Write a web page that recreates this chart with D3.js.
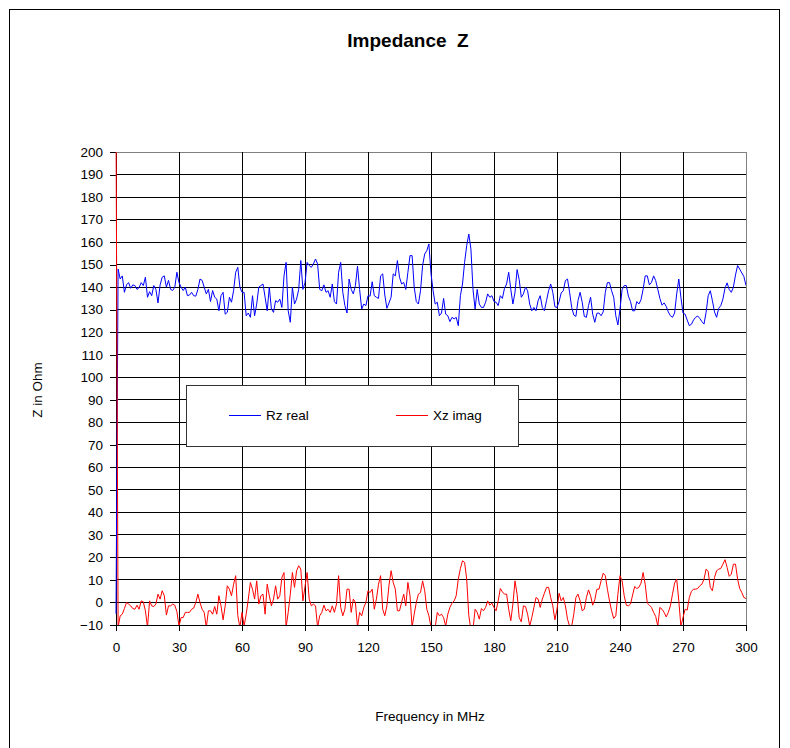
<!DOCTYPE html>
<html>
<head>
<meta charset="utf-8">
<script src="https://cdn.jsdelivr.net/npm/d3@7"></script>
<style>
  html, body { margin: 0; padding: 0; background: #fff; }
  svg { display: block; font-family: "Liberation Sans", Arial, sans-serif; }
</style>
</head>
<body>
<svg id="chart" width="790" height="748"></svg>
<script>
// ---- data ----
const chartTitle = "Impedance  Z";
const xLabel = "Frequency in MHz";
const yLabel = "Z in Ohm";
const seriesNames = ["Rz real", "Xz imag"];
const xTicks = [0, 30, 60, 90, 120, 150, 180, 210, 240, 270, 300];
const yTicks = [-10, 0, 10, 20, 30, 40, 50, 60, 70, 80, 90, 100, 110, 120, 130, 140, 150, 160, 170, 180, 190, 200];
// sweep frequencies, MHz (one sample per MHz)
const freqMHz = d3.range(0, 301, 1);
const rzReal = [
-5,148,143.6,145,137.7,141,142,139.5,141,140.7,139,139.8,142,140.7,144.4,135.5,138,136.2,140.7,139,
133,141,144.4,145,140,143,139,138.5,140,146.6,142,140,138.5,140,136.2,136.5,137.7,136.2,136,139,
143.6,143,140,137,139,133.6,138.5,135.5,134.7,129.5,136.2,137.7,128,128.8,135.5,133.3,138.5,146.6,148.8,140,
137.7,137.7,127.3,128.5,126.6,136.2,127.3,132.5,140,140.7,141.4,135.5,129.5,140,130.3,128.8,134,133.3,134.7,131,
145,151,129.5,124.4,140,132.5,134.7,139,151.8,139,142,151,149.6,148.8,150.3,152.5,150.3,139,138.4,141,
137.7,138.4,135.5,141.4,133.6,132.5,146.6,151,137.7,131.8,128.5,143.6,139,137,140.7,149.3,139,130.3,132.5,131.8,
136.2,136,142.4,136.2,135.5,135,145,145.9,136.5,130.6,133,135.5,145.9,145,151.8,144.4,141.4,142.1,139,146.6,
154,154,140,133.6,132.5,138.4,149.6,154.7,156.2,159.2,146,138.4,132.5,133.3,127.3,128.5,135,128,127.3,124.7,
126.6,125.9,126.6,122.9,136.2,141.4,151,158.4,163.6,157,139,130.3,139,132.5,131,131,133.3,137,135.5,136.2,
133.6,133.3,131.8,136.2,135,139.5,141.4,146.6,139,132.5,137.7,147.8,143.3,135.5,137,140,138.4,132.5,129.5,131,
129.5,134,136.2,131,129.5,134,138.4,141.4,137.7,131.3,131,133.6,137.4,138.4,142.9,143.6,137.7,131,127.6,127,
134,137.7,133.3,127,126.6,131.8,135.5,128,124.4,128.4,128.5,127.3,129,137.7,142,142,138.4,135.5,127.3,123.2,
130.3,138.9,140.7,140.7,136,133.6,129.5,129.5,133.6,132.5,134.4,139,145,145,141,142.1,145,142.9,139,135,
132,133,131.5,129,127.3,126.6,128.5,137,143.6,135.5,128.5,128,125.4,122.9,123.5,125.4,126.6,127.2,126.1,124.7,
123.6,128.8,136.2,138.4,134,129,126.6,130.6,131.8,134.7,139.5,141.9,139,137.7,140,145.4,149.6,148,146.3,144.7,
140.7
];
const xzImag = [
215,-11,-5.9,-5.2,-2.7,0,-0.7,-1.5,-2.7,-3,-1.2,-3,0.7,0.3,-3.7,-11,0.7,-1.5,-1.8,-0.7,
3.7,1.5,5.2,3,-5.6,-1.5,-1.5,-0.7,-1.2,-4.1,-10.5,-6.7,-6.7,-4.4,-4.4,-4.4,-3,-2.5,0,3.7,
0,-3,-4.4,-11,-3.7,-3.7,-5.2,-1.8,-5.2,3,-1.5,-7.7,-1.5,7.4,5.9,3,8.1,11.9,-5.9,-11,
-4.4,-10.5,-5.2,1.5,8.9,5.9,1.5,9.6,-0.7,3,3.7,-5.2,8.1,3,-1.5,1.5,7.4,1.5,3,11.1,
13.3,-11,-4.4,3.7,13.3,6.7,14.1,16.3,14.8,0.7,7.1,13.3,1.5,-1.5,-0.7,-1.5,-11,-5.9,-4.4,-1.2,
-3.7,-3,-4.4,-1.5,-4.4,-0.7,11.9,-2.2,-5.9,-3,5.9,5.9,-4.4,1.5,0,-11,-4.4,-5.9,-2.2,0,
5.2,4.4,5.9,-3,1.5,8.1,11.9,-3,-5.9,-1.5,7.7,14.1,8.9,5.9,-3.7,-3.7,0,3.7,-1.5,8.9,
3,-11,-5.2,0,3.7,4.4,9.6,5.2,-3,-5.9,-11,-12,-11,-4.4,-5.9,-5.2,-6.7,-10.5,-5.2,-2.2,
-0.3,0.7,3,10.4,15.1,18.5,17.8,10.4,-5.9,-12,-12,-3,-4.4,-7.4,-2.7,-3.7,-2.2,0.7,-1.2,-0.3,
-2.2,-3.7,0.7,6.2,4.7,3.7,3.7,-3,-8.1,-0.7,9.6,3.7,-6.7,-8.6,-1.5,-1.8,-5.2,-10.5,-6.7,-2.2,
2.2,1.5,-2.2,1.5,4.1,6.7,6.7,2.2,-1.5,-7.7,-3,4.1,0.7,2.2,-1.5,-7.4,-10.5,-10.5,-5.2,2.2,
3.7,0.7,-3.7,-3,2.2,5.6,3,-1.2,1.2,5.9,5.9,9.6,13,11.9,5.9,0.7,-3.7,-7.1,-5.9,3.7,
11.9,9.6,3,-1.2,-1.5,-0.7,3.3,7.1,6.2,6.7,8.6,13.3,8.1,-0.3,-1.2,-2.2,-4.4,-6.2,-10.5,-2.2,
-3,-4.4,-6.4,-4.4,-1.5,3.7,8.6,10.4,0.7,-10.5,-6.7,-3,-3.4,2.2,4.9,5.9,5.9,6.2,7.4,8.1,
10.4,14.8,13.7,6.7,5.2,11.1,14.1,14.8,15.1,17,19,15.6,11.6,12.6,17,17,10.4,6.2,4.4,2.2,
1.8
];
const seriesColors = ["#0000ff", "#ff0000"];

// ---- drawing ----
const svg = d3.select("#chart");
const x = d3.scaleLinear().domain([0, 300]).range([116, 746]);
const y = d3.scaleLinear().domain([-10, 200]).range([625, 152]);

// outer chart frame
svg.append("rect").attr("x", 9.5).attr("y", 9.5).attr("width", 770).attr("height", 770)
  .attr("fill", "#fff").attr("stroke", "#000").attr("stroke-width", 1);

// plot area border
svg.append("rect").attr("x", x(0)).attr("y", y(200)).attr("width", x(300) - x(0)).attr("height", y(-10) - y(200))
  .attr("fill", "#fff").attr("stroke", "#808080").attr("stroke-width", 1)
  .attr("shape-rendering", "crispEdges");

// gridlines
const grid = svg.append("g").attr("shape-rendering", "crispEdges");
grid.selectAll("line.h").data(yTicks.filter(d => d > -10 && d < 200)).enter().append("line")
  .attr("x1", x(0)).attr("x2", x(300)).attr("y1", d => y(d)).attr("y2", d => y(d))
  .attr("stroke", "#000");
grid.selectAll("line.v").data(xTicks.filter(d => d > 0 && d < 300)).enter().append("line")
  .attr("x1", d => x(d)).attr("x2", d => x(d)).attr("y1", y(-10)).attr("y2", y(200))
  .attr("stroke", "#000");

// axes
const yAxis = d3.axisLeft(y).tickValues(yTicks).tickSize(6).tickSizeOuter(0).tickPadding(7);
const xAxis = d3.axisBottom(x).tickValues(xTicks).tickSize(6).tickSizeOuter(0).tickPadding(11);
const gy = svg.append("g").attr("transform", `translate(${x(0)},0)`).call(yAxis);
const gx = svg.append("g").attr("transform", `translate(0,${y(-10)})`).call(xAxis);
[gx, gy].forEach(g => {
  g.attr("shape-rendering", "crispEdges");
  g.selectAll("path, line").attr("stroke", "#000");
  g.selectAll("text").attr("font-family", "'Liberation Sans', Arial, sans-serif")
    .attr("font-size", 13.5).attr("fill", "#000");
});

// clip
svg.append("clipPath").attr("id", "plotclip").append("rect")
  .attr("x", x(0) - 1).attr("y", y(200)).attr("width", x(300) - x(0) + 1).attr("height", y(-10) - y(200));

const line = d3.line().x((d, i) => x(freqMHz[i])).y(d => y(d));
const plotG = svg.append("g").attr("clip-path", "url(#plotclip)");
[rzReal, xzImag].forEach((vals, k) => {
  plotG.append("path").datum(vals).attr("d", line)
    .attr("fill", "none").attr("stroke", seriesColors[k]).attr("stroke-width", 1)
    .attr("stroke-linejoin", "round");
});

// title & axis labels
svg.append("text").attr("x", 408).attr("y", 47).attr("text-anchor", "middle")
  .attr("font-size", 19).attr("font-weight", "bold").style("white-space", "pre").text(chartTitle);
svg.append("text").attr("x", 430).attr("y", 721).attr("text-anchor", "middle")
  .attr("font-size", 13.5).text(xLabel);
svg.append("text").attr("transform", "translate(42,390) rotate(-90)").attr("text-anchor", "middle")
  .attr("font-size", 13.5).text(yLabel);

// legend
const lg = svg.append("g");
lg.append("rect").attr("x", 186.5).attr("y", 385.5).attr("width", 332).attr("height", 61)
  .attr("fill", "#fff").attr("stroke", "#333").attr("stroke-width", 1);
const legX = [229, 396];
seriesNames.forEach((name, k) => {
  lg.append("line").attr("x1", legX[k]).attr("x2", legX[k] + 32).attr("y1", 415.5).attr("y2", 415.5)
    .attr("stroke", seriesColors[k]).attr("stroke-width", 1);
  lg.append("text").attr("x", legX[k] + 37).attr("y", 420).attr("font-size", 13.5).text(name);
});
</script>
</body>
</html>
